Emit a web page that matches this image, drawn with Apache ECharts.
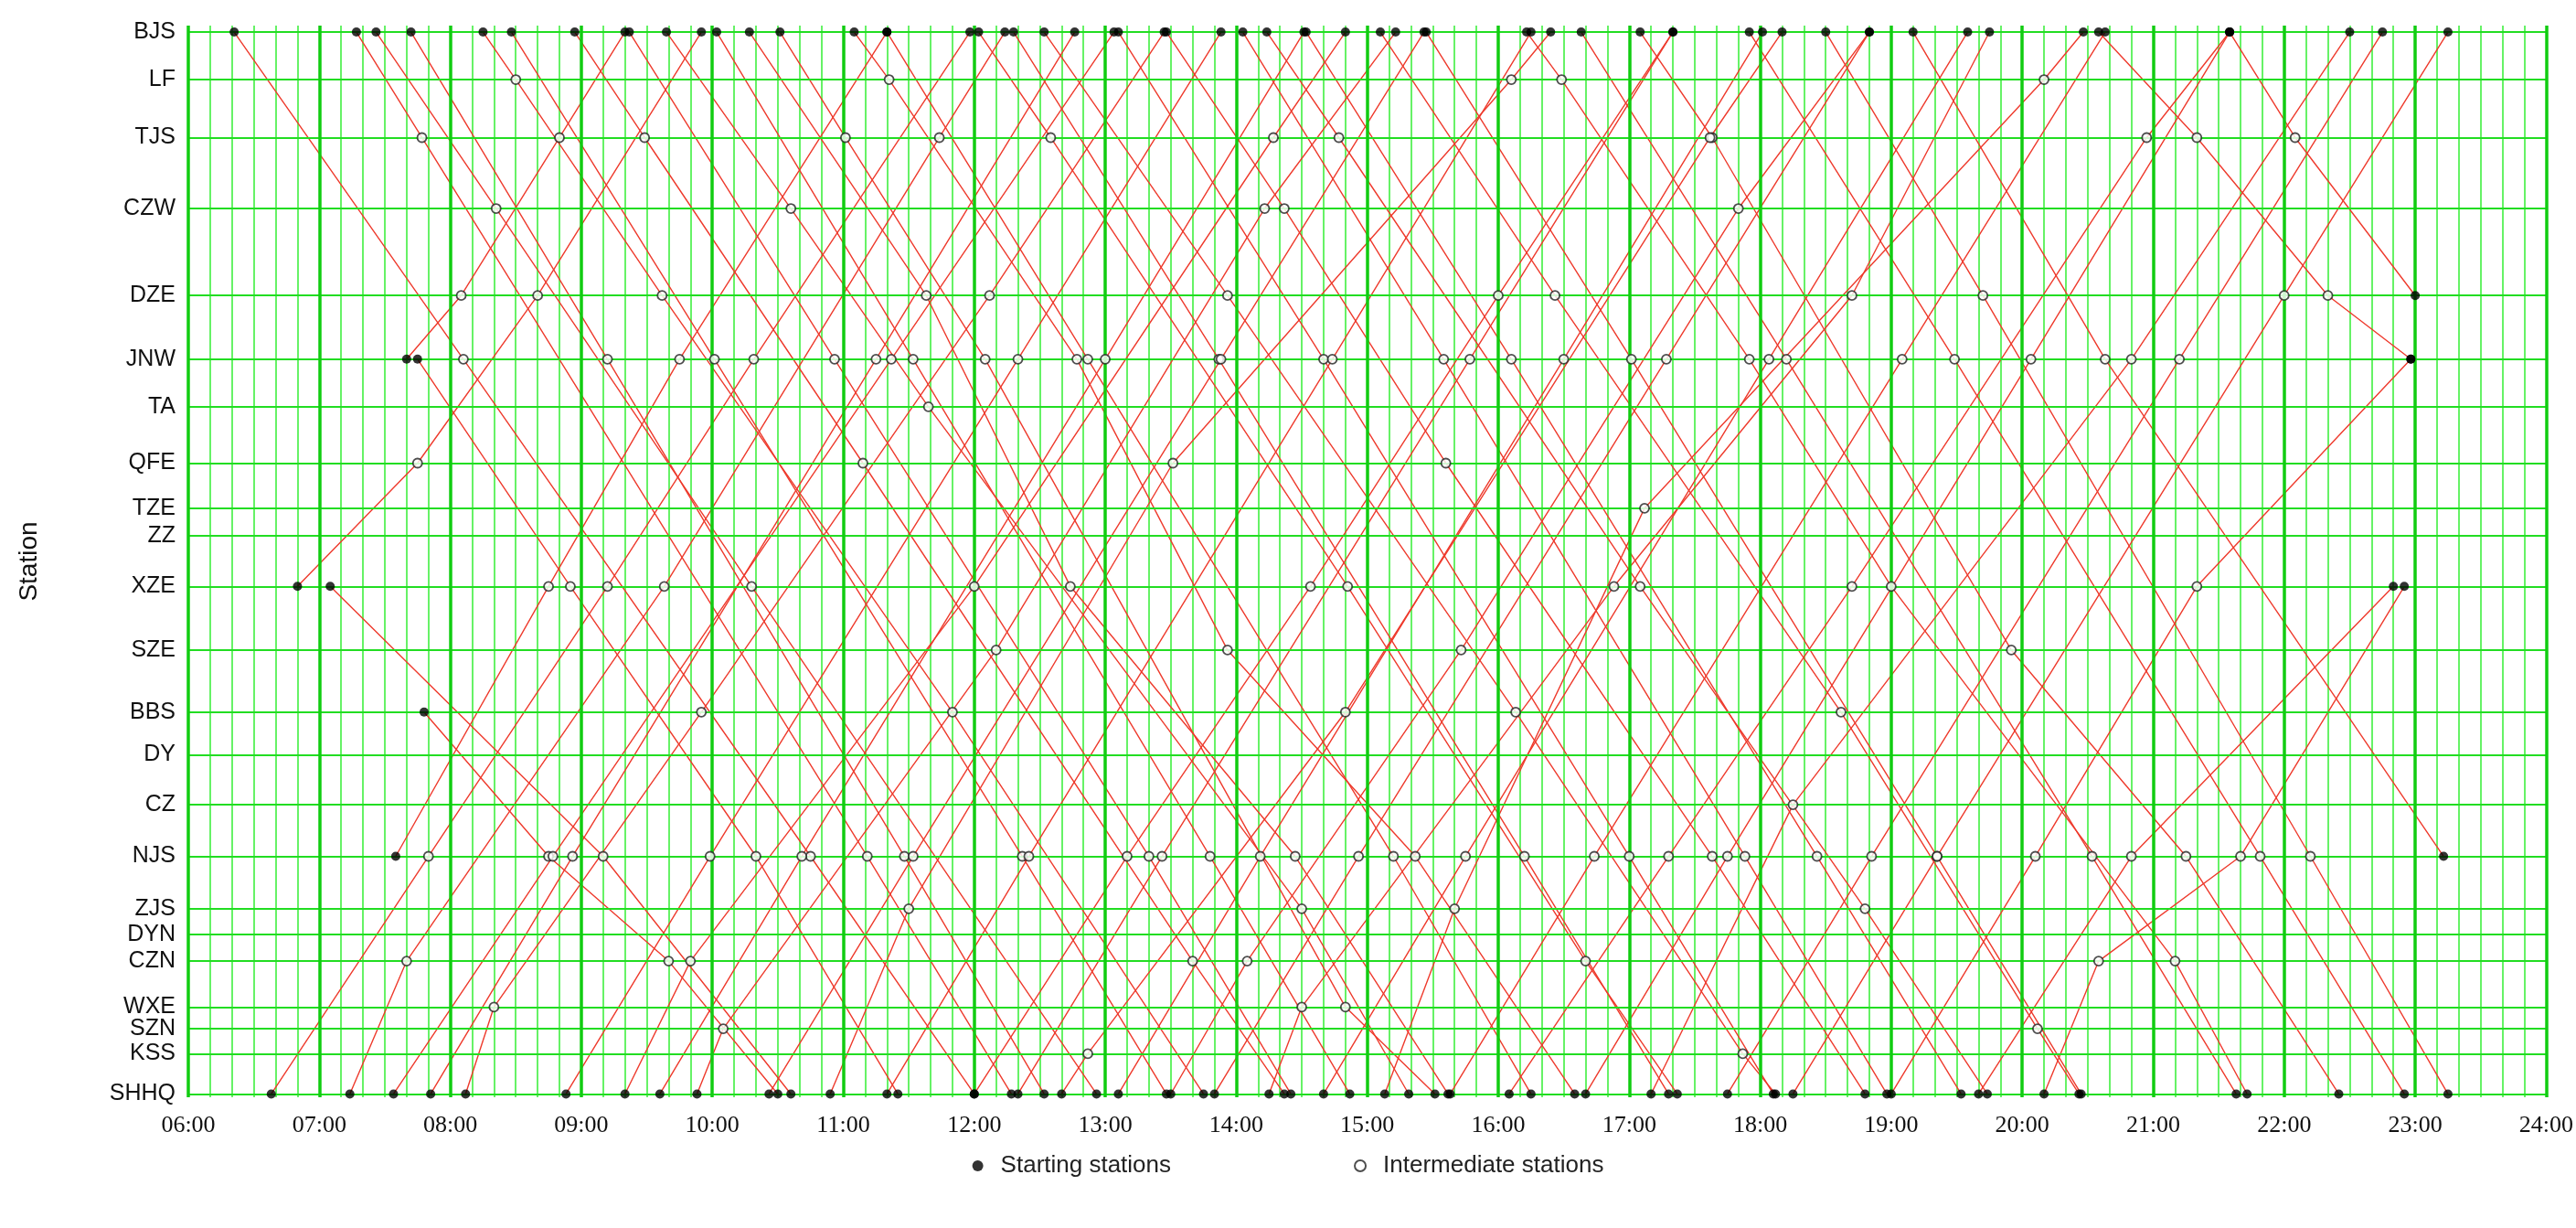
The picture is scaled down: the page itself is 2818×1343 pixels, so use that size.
<!DOCTYPE html>
<html><head><meta charset="utf-8">
<script src="https://cdn.jsdelivr.net/npm/echarts@6/dist/echarts.min.js"></script>
<style>html,body{margin:0;padding:0;background:#fff}#c{width:2818px;height:1343px}</style>
</head><body><div id="c"></div>
<script>
const stationNames = ["BJS","LF","TJS","CZW","DZE","JNW","TA","QFE","TZE","ZZ","XZE","SZE","BBS","DY","CZ","NJS","ZJS","DYN","CZN","WXE","SZN","KSS","SHHQ"];
const stationKm = [0,59,131,219,327,406,465,535,591,625,688,767,844,897,959,1023,1088,1120,1153,1210,1237,1268,1318];
const hourTicks = ["06:00","07:00","08:00","09:00","10:00","11:00","12:00","13:00","14:00","15:00","16:00","17:00","18:00","19:00","20:00","21:00","22:00","23:00","24:00"];
const downTrains = [
"BJS 06:21,JNW 08:06,NJS 10:45,SHHQ 12:00",
"BJS 07:17,TJS 07:47,NJS 11:11,SHHQ 12:17",
"BJS 07:26,CZW 08:21,XZE 10:18,SHHQ 12:56",
"BJS 07:42,JNW 09:12,NJS 11:28,SHHQ 12:32",
"BJS 08:15,LF 08:30,DZE 09:37,BBS 11:50,SHHQ 13:45",
"BJS 08:28,JNW 10:01,NJS 12:22,SHHQ 13:28",
"BJS 08:57,TJS 09:29,QFE 11:09,CZN 13:40,SHHQ 14:22",
"BJS 09:22,JNW 10:56,NJS 13:20,SHHQ 14:25",
"BJS 09:39,CZW 10:36,TA 11:39,ZJS 14:30,SHHQ 15:19",
"BJS 10:02,JNW 11:32,NJS 13:48,SHHQ 14:52",
"BJS 10:17,DZE 11:38,XZE 12:44,NJS 14:27,SHHQ 15:37",
"BJS 10:31,TJS 11:01,JNW 12:05,WXE 14:50,SHHQ 15:31",
"BJS 11:05,LF 11:21,JNW 12:47,SZE 13:56,NJS 15:22,SHHQ 16:35",
"BJS 11:20,JNW 12:52,NJS 15:12,SHHQ 16:15",
"BJS 12:02,TJS 12:35,XZE 14:51,CZN 16:40,SHHQ 17:22",
"BJS 12:18,JNW 13:52,NJS 16:12,SHHQ 17:18",
"BJS 12:32,DZE 13:56,BBS 16:08,KSS 17:52,SHHQ 18:07",
"BJS 13:06,JNW 14:40,NJS 17:00,SHHQ 18:06",
"BJS 13:28,CZW 14:22,QFE 15:36,NJS 17:38,SHHQ 18:48",
"BJS 14:03,JNW 15:35,NJS 17:53,SHHQ 18:58",
"BJS 14:14,TJS 14:47,XZE 17:05,ZJS 18:48,SHHQ 19:44",
"BJS 14:32,JNW 16:06,NJS 18:26,SHHQ 19:32",
"BJS 15:06,DZE 16:26,BBS 18:37,SZN 20:07,SHHQ 20:26",
"BJS 15:27,JNW 17:01,NJS 19:21,SHHQ 20:27",
"BJS 16:13,LF 16:29,JNW 17:55,XZE 19:00,CZN 21:10,SHHQ 21:43",
"BJS 16:38,JNW 18:12,NJS 20:32,SHHQ 21:38",
"BJS 17:05,TJS 17:38,SZE 19:55,NJS 21:15,SHHQ 22:25",
"BJS 17:55,JNW 19:29,NJS 21:49,SHHQ 22:55",
"BJS 18:30,DZE 19:42,NJS 22:12,SHHQ 23:15",
"BJS 19:10,JNW 20:38,NJS 23:13",
"BJS 20:35,TJS 21:20,DZE 22:20,JNW 22:58",
"BJS 21:35,TJS 22:05,DZE 23:00",
"XZE 07:05,NJS 09:10,SHHQ 10:36",
"BBS 07:48,NJS 08:45,CZN 09:40,SHHQ 10:30",
"JNW 07:45,XZE 08:55,NJS 10:20,SHHQ 11:25"
];
const upTrains = [
"SHHQ 06:38,NJS 07:50,XZE 09:12,JNW 10:19,BJS 11:58",
"SHHQ 07:14,CZN 07:40,XZE 09:38,TJS 11:44,BJS 12:14",
"SHHQ 07:34,NJS 08:47,JNW 11:22,BJS 13:04",
"SHHQ 07:51,NJS 08:56,JNW 11:15,BJS 12:46",
"SHHQ 08:07,WXE 08:20,BBS 09:55,DZE 12:07,BJS 13:27",
"SHHQ 08:53,NJS 09:59,JNW 12:20,BJS 13:53",
"SHHQ 09:20,CZN 09:50,XZE 12:00,TJS 14:17,BJS 14:50",
"SHHQ 09:36,NJS 10:41,JNW 13:00,BJS 14:31",
"SHHQ 09:53,SZN 10:05,SZE 12:10,CZW 14:13,BJS 15:13",
"SHHQ 10:26,NJS 11:32,JNW 13:53,BJS 15:26",
"SHHQ 10:54,ZJS 11:30,QFE 13:31,LF 16:06,BJS 16:24",
"SHHQ 11:20,NJS 12:25,JNW 14:44,BJS 16:15",
"SHHQ 12:00,NJS 13:10,XZE 14:34,DZE 16:00,BJS 17:20",
"SHHQ 12:20,NJS 13:26,JNW 15:47,BJS 17:20",
"SHHQ 12:40,KSS 12:52,BBS 14:50,TJS 17:37,BJS 18:10",
"SHHQ 13:06,NJS 14:11,JNW 16:30,BJS 18:01",
"SHHQ 13:30,CZN 14:05,SZE 15:43,CZW 17:50,BJS 18:50",
"SHHQ 13:50,NJS 14:56,JNW 17:17,BJS 18:50",
"SHHQ 14:15,WXE 14:30,XZE 16:53,DZE 18:42,BJS 19:45",
"SHHQ 14:40,NJS 15:45,JNW 18:04,BJS 19:35",
"SHHQ 15:08,ZJS 15:40,TZE 17:07,LF 20:10,BJS 20:28",
"SHHQ 15:38,NJS 16:44,JNW 19:05,BJS 20:38",
"SHHQ 16:05,NJS 17:18,XZE 18:42,TJS 20:57,BJS 21:35",
"SHHQ 16:40,NJS 17:45,JNW 20:04,BJS 21:35",
"SHHQ 17:10,CZ 18:15,JNW 20:50,BJS 22:30",
"SHHQ 17:45,NJS 18:51,JNW 21:12,BJS 22:45",
"SHHQ 18:15,NJS 19:21,DZE 22:00,BJS 23:15",
"SHHQ 19:00,NJS 20:06,XZE 21:20,JNW 22:58",
"SHHQ 19:40,NJS 20:50,XZE 22:50",
"SHHQ 20:10,CZN 20:35,NJS 21:40,XZE 22:55",
"NJS 07:35,XZE 08:45,JNW 09:45,BJS 11:20",
"XZE 06:50,QFE 07:45,DZE 08:40,BJS 09:55",
"JNW 07:40,DZE 08:05,TJS 08:50,BJS 09:20"
];
const legendNames = ["Starting stations","Intermediate stations"];

const toMin = s => { const [h,m] = s.split(":").map(Number); return h*60+m; };
const kmOf = n => stationKm[stationNames.indexOf(n)];
const parse = t => t.split(",").map(p => { const [n,tm] = p.trim().split(" "); return [toMin(tm), kmOf(n)]; });
const allTrains = downTrains.concat(upTrains).map(parse);
const starts = [], mids = [];
allTrains.forEach(tr => tr.forEach((p,i) => (i===0||i===tr.length-1 ? starts : mids).push(p)));

const series = allTrains.map(tr => ({type:'line', data:tr, symbol:'none', silent:true,
  lineStyle:{color:'#ee3a2c', width:1.4}, z:3}));
series.push({type:'line', data:[], silent:true, markLine:{symbol:'none', silent:true,
  lineStyle:{color:'#22dd22', width:2, type:'solid'},
  label:{position:'start', formatter:p=>p.name, fontFamily:'Liberation Sans', fontSize:25, color:'#111', distance:14},
  data: stationNames.map((n,i)=>({name:n, yAxis:stationKm[i]}))}});
series.push({type:'line', data:[], silent:true, markLine:{symbol:'none', silent:true, label:{show:false},
  lineStyle:{color:'#11cc11', width:3.5, type:'solid'},
  data: hourTicks.map(h=>({xAxis:toMin(h)}))}});
series.push({name:legendNames[0], type:'scatter', data:starts, symbolSize:10, itemStyle:{color:'#000'}, z:5});
series.push({name:legendNames[1], type:'scatter', data:mids, symbolSize:10, itemStyle:{color:'#fff', borderColor:'#222', borderWidth:1.8}, z:5});

const chart = echarts.init(document.getElementById('c'));
chart.setOption({
  animation:false,
  grid:{left:206, right:30, top:28, bottom:143},
  legend:{bottom:50, left:'center', itemGap:200, data:legendNames, textStyle:{fontFamily:'Liberation Sans', fontSize:26, color:'#222', padding:[0,0,0,14]}, itemWidth:12, itemHeight:12},
  xAxis:{type:'value', min:360, max:1440, interval:10,
    axisLine:{show:false}, axisTick:{show:false},
    splitLine:{show:true, lineStyle:{color:'#33ee33', width:1.5}},
    axisLabel:{fontFamily:'Liberation Serif', fontSize:26, color:'#111', margin:18,
      formatter:v=> v%60===0 ? hourTicks[(v-360)/60] : ''}},
  yAxis:{type:'value', inverse:true, min:-8, max:1322,
    axisLine:{show:false}, axisTick:{show:false}, splitLine:{show:false}, axisLabel:{show:false},
    name:'Station', nameLocation:'middle', nameGap:160, nameRotate:90,
    nameTextStyle:{fontFamily:'Liberation Sans', fontSize:28, color:'#111'}},
  series
});
</script></body></html>
